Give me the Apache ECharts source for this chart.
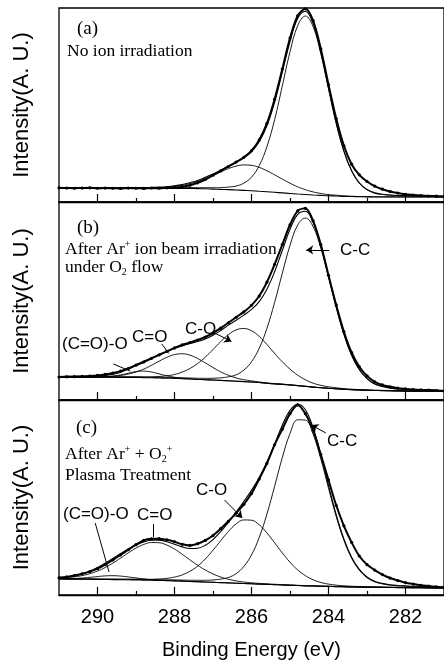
<!DOCTYPE html>
<html><head><meta charset="utf-8">
<script src="https://cdn.jsdelivr.net/npm/echarts@6/dist/echarts.min.js"></script>
<style>html,body{margin:0;padding:0;background:#fff}#c{width:444px;height:664px}</style>
</head><body><div id="c"></div>
<script>
// Binding energy grid (eV)
const energy = [281,281.2,281.4,281.6,281.8,282,282.2,282.4,282.6,282.8,283,283.2,283.4,283.6,283.8,284,284.2,284.4,284.6,284.8,285,285.2,285.4,285.6,285.8,286,286.2,286.4,286.6,286.8,287,287.2,287.4,287.6,287.8,288,288.2,288.4,288.6,288.8,289,289.2,289.4,289.6,289.8,290,290.2,290.4,290.6,290.8,291];
const majorTicks = [282,284,286,288,290];
const minorTicks = [283,285,287,289];

// Panel (a): No ion irradiation
const aBase = [2.6,2.6,2.6,2.6,2.6,2.6,2.6,2.6,2.6,2.6,2.65,2.7,2.8,2.9,3.1,3.2,3.4,3.6,3.85,4.1,4.4,4.7,5.0,5.3,5.55,5.8,6.0,6.2,6.4,6.5,6.65,6.8,6.9,6.95,7.0,7.0,7.0,7.0,7.0,7.0,7.0,7.0,7.0,7.0,7.0,7.0,7.0,7.0,7.0,7.0,7.0];
const aCC = [0.3,0.35,0.4,0.5,0.5,0.6,0.7,0.9,1.3,2.0,3.7,7.0,13.2,23.2,37.4,55.1,73.0,86.8,92.0,86.8,73.0,55.1,37.4,23.2,13.2,7.0,3.7,2.0,1.3,0.9,0.7,0.6,0.5,0.5,0.4,0.35,0.3,0.3,0.28,0.26,0.24,0.22,0.2,0.2,0.18,0.17,0.16,0.15,0.14,0.13,0.12];
const aCO = [0.05,0.05,0.05,0.06,0.06,0.07,0.07,0.08,0.09,0.1,0.11,0.13,0.18,0.26,0.4,0.6,1.0,1.6,2.5,3.7,5.3,7.1,9.0,10.8,12.3,13.1,13.1,12.3,10.8,9.0,7.1,5.3,3.7,2.5,1.6,1.0,0.6,0.4,0.26,0.18,0.13,0.1,0.1,0.08,0.07,0.07,0.06,0.06,0.05,0.05,0.05];
const aData = [2.8,3.0,3.1,3.3,3.6,4.0,4.6,5.4,6.6,8.2,10.6,14.0,19.5,29.0,43.0,60.5,79.0,93.5,99.6,96.0,84.5,68.5,53.0,40.5,32.0,26.5,23.0,20.6,18.3,16.0,13.8,11.6,9.9,8.6,7.9,7.5,7.3,7.1,7.2,7.0,7.1,7.2,7.0,7.1,7.2,7.1,7.3,7.2,7.1,7.2,7.3];

// Panel (b): After Ar+ ion beam irradiation under O2 flow
const bBase = [4.3,4.35,4.4,4.4,4.45,4.5,4.6,4.65,4.75,4.8,4.9,5.05,5.2,5.4,5.65,5.9,6.2,6.5,6.88,7.24,7.6,7.9,8.15,8.45,8.8,9.1,9.3,9.5,9.7,9.9,10.1,10.25,10.4,10.6,10.75,10.9,11.0,11.1,11.2,11.3,11.4,11.42,11.44,11.46,11.48,11.5,11.52,11.54,11.56,11.58,11.6];
const bCC = [0.38,0.43,0.47,0.5,0.6,0.7,0.9,1.3,2.0,3.2,5.8,10.2,17.3,27.7,41.1,56.1,70.5,81.1,85,81.1,70.5,56.1,41.1,27.7,17.3,10.2,5.8,3.2,2.0,1.3,0.9,0.7,0.6,0.5,0.47,0.43,0.38,0.34,0.31,0.29,0.27,0.25,0.23,0.22,0.2,0.19,0.18,0.17,0.16,0.15,0.14];
const bCO = [0.08,0.09,0.09,0.1,0.11,0.12,0.13,0.14,0.15,0.17,0.2,0.22,0.27,0.35,0.51,0.78,1.23,2.0,3.35,5.3,8.0,11.4,15.4,19.6,23.3,25.9,26.8,25.9,23.3,19.6,15.4,11.4,8.0,5.3,3.35,2.0,1.23,0.78,0.51,0.35,0.27,0.22,0.2,0.17,0.15,0.14,0.13,0.12,0.11,0.1,0.09];
const bCdO = [0.02,0.02,0.02,0.02,0.02,0.02,0.03,0.03,0.03,0.03,0.04,0.04,0.04,0.05,0.05,0.06,0.06,0.07,0.07,0.08,0.1,0.12,0.15,0.21,0.32,0.55,0.96,1.66,2.8,4.3,6.3,8.5,10.55,12.05,12.6,12.05,10.55,8.5,6.3,4.3,2.8,1.66,0.96,0.55,0.32,0.21,0.15,0.12,0.1,0.08,0.07];
const bCOO = [0,0,0,0,0,0,0,0,0,0,0,0,0,0,0,0,0,0,0,0,0,0,0,0,0,0,0,0,0,0,0,0,0,0.1,0.25,0.6,1.23,2.1,2.94,3.3,2.94,2.1,1.23,0.6,0.25,0.1,0.05,0.03,0.02,0.01,0];
const bData = [4.6,4.8,5.0,5.1,5.3,5.6,6.0,6.7,7.6,9.2,12.2,16.8,24.0,34.5,48.0,63.0,78.5,90.5,96.8,95.5,88.5,78.5,68.5,59.5,52.5,47.8,44.5,41.8,39.0,36.3,33.8,31.8,30.3,29.0,27.8,26.3,24.6,22.8,21.0,19.2,17.6,15.9,14.6,13.6,12.9,12.4,12.1,11.9,11.8,11.7,11.6];

// Panel (c): After Ar+ + O2+ plasma treatment
const cBase = [3.6,3.6,3.65,3.7,3.7,3.75,3.8,3.85,3.9,3.95,4.0,4.05,4.1,4.2,4.3,4.4,4.5,4.6,4.7,4.85,5.0,5.15,5.3,5.45,5.6,5.75,5.9,6.05,6.2,6.35,6.5,6.65,6.8,6.95,7.1,7.25,7.35,7.45,7.55,7.65,7.75,7.8,7.85,7.9,7.95,8.0,8.05,8.1,8.1,8.15,8.2];
const cCC = [0.4,0.44,0.5,0.55,0.62,0.73,0.9,1.2,1.8,2.8,4.9,8.7,14.8,23.9,36.0,50.4,65.3,77.8,85.0,85.0,77.8,65.3,50.4,36.0,23.9,14.8,8.7,4.9,2.8,1.8,1.2,0.9,0.73,0.62,0.55,0.5,0.44,0.4,0.35,0.33,0.3,0.27,0.25,0.23,0.21,0.19,0.18,0.17,0.16,0.15,0.14];
const cCO = [0.1,0.11,0.12,0.13,0.14,0.15,0.16,0.18,0.2,0.23,0.26,0.31,0.39,0.52,0.76,1.18,1.94,3.2,5.2,8.0,11.8,16.45,21.5,26.4,30.4,32.6,32.6,30.4,26.4,21.5,16.45,11.8,8.0,5.2,3.2,1.94,1.18,0.76,0.52,0.39,0.31,0.26,0.23,0.2,0.18,0.16,0.15,0.14,0.13,0.12,0.11];
const cCdO = [0.04,0.04,0.04,0.04,0.04,0.05,0.05,0.05,0.05,0.05,0.06,0.06,0.07,0.08,0.085,0.09,0.1,0.11,0.12,0.13,0.15,0.17,0.21,0.26,0.35,0.5,0.76,1.19,1.86,2.87,4.29,6.16,8.46,11.08,13.8,16.32,18.27,19.36,19.36,18.27,16.32,13.8,11.08,8.46,6.16,4.29,2.87,1.86,1.19,0.76,0.5];
const cCOO = [0,0,0,0,0,0,0,0,0,0,0,0,0,0,0,0,0,0,0,0,0,0,0,0,0,0,0,0,0,0,0,0,0,0,0.02,0.04,0.07,0.15,0.32,0.6,1.0,1.46,1.85,2.0,1.85,1.46,1.0,0.6,0.32,0.15,0.07];
const cData = [3.8,4.2,4.6,5.0,5.6,6.3,7.4,8.7,10.5,12.8,15.6,20.0,27.0,35.5,46.0,59.0,72.0,84.5,93.0,97.5,93.0,85.0,77.0,67.5,59.5,52.0,46.5,42.0,37.8,34.0,30.5,28.0,26.3,25.4,26.0,27.3,28.3,28.9,28.8,28.0,25.8,23.2,20.6,18.0,15.6,13.5,12.0,10.9,10.0,9.3,8.8];

const SANS = '"Liberation Sans", Arial, sans-serif';
const SERIF = '"Liberation Serif", "Times New Roman", serif';

const sumOn = (base, comps) => base.map((b, i) => comps.reduce((s, c) => s + c[i], b));
const pairs = ys => energy.map((e, i) => [e, Math.round(ys[i] * 100) / 100]);

const grids = [
  {left: 59, top: 8, width: 386, height: 194},
  {left: 59, top: 202, width: 386, height: 198},
  {left: 59, top: 400, width: 386, height: 195}
].map(g => Object.assign(g, {show: true, borderColor: '#000', borderWidth: 1.3, backgroundColor: 'transparent'}));

const xAxes = [];
const yAxes = [];
[0, 1, 2].forEach(gi => {
  const last = gi === 2;
  xAxes.push({
    type: 'value', gridIndex: gi, min: 281, max: 291, inverse: true, position: 'bottom',
    axisLine: {show: true, lineStyle: {color: '#000', width: 1.3}},
    axisTick: {show: true, inside: true, length: 8, customValues: majorTicks, lineStyle: {color: '#000', width: 1.2}},
    axisLabel: {show: last, customValues: majorTicks, margin: 12, color: '#000', fontSize: 20, fontFamily: SANS},
    splitLine: {show: false},
    name: last ? 'Binding Energy (eV)' : '', nameLocation: 'middle', nameGap: 45,
    nameTextStyle: {color: '#000', fontSize: 20, fontFamily: SANS}
  });
  xAxes.push({
    type: 'value', gridIndex: gi, min: 281, max: 291, inverse: true, position: 'bottom',
    axisLine: {show: false},
    axisTick: {show: true, inside: true, length: 4, customValues: minorTicks, lineStyle: {color: '#000', width: 1.2}},
    axisLabel: {show: false}, splitLine: {show: false}
  });
  yAxes.push({
    type: 'value', gridIndex: gi, min: 0, max: 100,
    axisLine: {show: false}, axisTick: {show: false}, axisLabel: {show: false}, splitLine: {show: false},
    name: 'Intensity(A. U.)', nameLocation: 'middle', nameGap: 26, nameRotate: 90,
    nameTextStyle: {color: '#000', fontSize: 22, fontFamily: SANS}
  });
});

function arrow(p1, p2, head) {
  return [{coord: p1, symbol: 'none'}, {coord: p2, symbol: head ? 'arrow' : 'none', symbolSize: head ? 7 : 0}];
}

function panel(gi, base, comps, data, leaders) {
  const xi = gi * 2, yi = gi;
  const out = [];
  out.push({
    type: 'line', xAxisIndex: xi, yAxisIndex: yi, data: pairs(base), smooth: 0.3, symbol: 'none',
    lineStyle: {color: '#000', width: 1.1},
    markLine: leaders.length ? {silent: true, animation: false, label: {show: false},
      lineStyle: {color: '#000', width: 1, type: 'solid'}, data: leaders} : undefined
  });
  comps.forEach(c => out.push({
    type: 'line', xAxisIndex: xi, yAxisIndex: yi, data: pairs(sumOn(base, [c])), smooth: 0.4, symbol: 'none',
    lineStyle: {color: '#000', width: 0.9}
  }));
  out.push({
    type: 'line', xAxisIndex: xi, yAxisIndex: yi, data: pairs(sumOn(base, comps)), smooth: 0.4, symbol: 'none',
    lineStyle: {color: '#000', width: 1.1}
  });
  out.push({
    type: 'line', xAxisIndex: xi, yAxisIndex: yi, data: pairs(data), smooth: 0.3,
    symbol: 'circle', symbolSize: 3.2, showSymbol: true,
    itemStyle: {color: '#000'}, lineStyle: {color: '#000', width: 2}
  });
  return out;
}

const series = [].concat(
  panel(0, aBase, [aCC, aCO], aData, []),
  panel(1, bBase, [bCC, bCO, bCdO, bCOO], bData, [
    arrow([283.98, 75.8], [284.58, 75.8], true),
    arrow([287.01, 34.3], [286.52, 29.6], true),
    arrow([288.33, 28.3], [288.15, 23.5], false),
    arrow([289.59, 18.2], [289.15, 14.6], false)
  ]),
  panel(2, cBase, [cCC, cCO, cCdO, cCOO], cData, [
    arrow([284.07, 83.1], [284.45, 87.2], true),
    arrow([286.70, 48.7], [286.24, 39.5], true),
    arrow([288.56, 36.4], [288.56, 29.7], false),
    arrow([290.06, 36.9], [289.70, 11.8], false)
  ])
);

function txt(x, y, text, font, rich) {
  const st = {text: text, font: font, fill: '#000', verticalAlign: 'middle', align: 'left'};
  if (rich) st.rich = rich;
  return {type: 'text', x: x, y: y, silent: true, style: st, z: 100};
}
const serifRich = {
  n: {fontSize: 17.5, fontFamily: SERIF, lineHeight: 20, verticalAlign: 'middle'},
  sup: {fontSize: 10, fontFamily: SERIF, lineHeight: 20, verticalAlign: 'top'},
  sub: {fontSize: 10, fontFamily: SERIF, lineHeight: 20, verticalAlign: 'bottom'}
};
const F_SERIF = '17.5px ' + SERIF;
const F_LAB = '19px ' + SERIF;
const F_SANS = '17px ' + SANS;

const graphic = [
  txt(77, 29, '(a)', F_LAB),
  txt(67, 51, 'No ion irradiation', F_SERIF),
  txt(77, 228, '(b)', F_LAB),
  txt(65, 249, '{n|After Ar}{sup|+}{n| ion beam irradiation}', F_SERIF, serifRich),
  txt(65, 267, '{n|under O}{sub|2}{n| flow}', F_SERIF, serifRich),
  txt(76, 428, '(c)', F_LAB),
  txt(65, 454, '{n|After Ar}{sup|+}{n| + O}{sub|2}{sup|+}', F_SERIF, serifRich),
  txt(65, 475, 'Plasma Treatment', F_SERIF),
  txt(340, 250, 'C-C', F_SANS),
  txt(185, 329, 'C-O', F_SANS),
  txt(132, 337, 'C=O', F_SANS),
  txt(62, 344, '(C=O)-O', F_SANS),
  txt(327, 441, 'C-C', F_SANS),
  txt(196, 490, 'C-O', F_SANS),
  txt(137, 515, 'C=O', F_SANS),
  txt(63, 514, '(C=O)-O', F_SANS)
];

const chart = echarts.init(document.getElementById('c'), null, {renderer: 'canvas'});
chart.setOption({
  animation: false,
  backgroundColor: '#fff',
  grid: grids,
  xAxis: xAxes,
  yAxis: yAxes,
  series: series,
  graphic: graphic
});
</script>
</body></html>
